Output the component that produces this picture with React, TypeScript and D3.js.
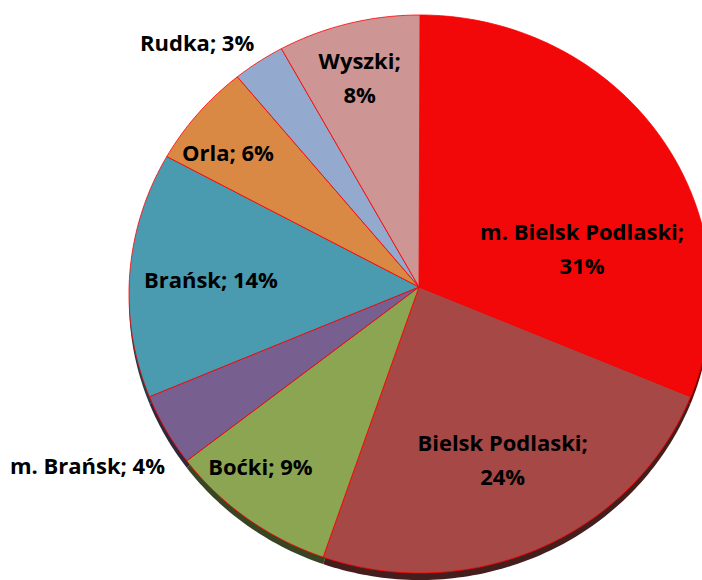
import React from "react";
import * as d3 from "d3";

const categories = [
  "m. Bielsk Podlaski",
  "Bielsk Podlaski",
  "Boćki",
  "m. Brańsk",
  "Brańsk",
  "Orla",
  "Rudka",
  "Wyszki",
];
const values = [31.0, 24.4, 9.4, 4.2, 14.2, 6.0, 2.9, 7.9];
const percentLabels = ["31%", "24%", "9%", "4%", "14%", "6%", "3%", "8%"];
const colors = ["#F20808", "#A54846", "#8BA552", "#775F8F", "#4A9AB0", "#DA8945", "#94A9CE", "#CD9594"];
// label layout: [angle offset (deg), radial fraction, two-line?]
const labelLayout: [number, number, boolean][] = [
  [18, 0.58, true],
  [-1, 0.66, true],
  [5, 0.83, false],
  [0.7, 1.3, false],
  [-0.3, 0.72, false],
  [-3, 0.83, false],
  [-6.8, 1.18, false],
  [-0.8, 0.8, true],
];

const W = 702;
const H = 580;
const cx = 420;
const cy = 294;
const rx = 291;
const ry = 279;
const apex = { x: 419, y: 287 };
const depth = 7;

function ell(t: number, f = 1) {
  return [cx + rx * f * Math.sin(t), cy - ry * f * Math.cos(t)] as [number, number];
}

function slicePath(a0: number, a1: number, dy = 0) {
  const n = Math.max(4, Math.ceil(((a1 - a0) * 180) / Math.PI));
  const pts: [number, number][] = [[apex.x, apex.y + dy]];
  for (let i = 0; i <= n; i++) {
    const t = a0 + ((a1 - a0) * i) / n;
    const p = ell(t);
    pts.push([p[0], p[1] + dy]);
  }
  return d3.line()(pts) + "Z";
}

export default function App() {
  const pie = d3.pie<number>().sort(null).value((d) => d);
  const arcs = pie(values);
  const font = "'Open Sans', 'Noto Sans', sans-serif";
  return (
    <svg
      width={W}
      height={H}
      style={{ position: "absolute", left: 0, top: 0, background: "#fff" }}
    >
      <g>
        {arcs.map((a, i) => (
          <path
            key={"s" + i}
            d={slicePath(a.startAngle, a.endAngle, depth)}
            fill={d3.color(colors[i])!.darker(2.5).toString()}
          />
        ))}
      </g>
      <g>
        {arcs.map((a, i) => (
          <path
            key={"f" + i}
            d={slicePath(a.startAngle, a.endAngle)}
            fill={colors[i]}
            stroke="#FF0000"
            strokeWidth={0.8}
            strokeLinejoin="round"
          />
        ))}
      </g>
      <g fontFamily={font} fontWeight={700} fontSize={22} fill="#000">
        {arcs.map((a, i) => {
          const [off, f, two] = labelLayout[i];
          const mid = (a.startAngle + a.endAngle) / 2 + (off * Math.PI) / 180;
          const [x, y] = ell(mid, f);
          if (two) {
            return (
              <text key={"l" + i} x={x} y={y} textAnchor="middle">
                <tspan x={x} dy={-9}>{categories[i] + ";"}</tspan>
                <tspan x={x} dy={34}>{percentLabels[i]}</tspan>
              </text>
            );
          }
          return (
            <text key={"l" + i} x={x} y={y + 7} textAnchor="middle">
              {categories[i] + "; " + percentLabels[i]}
            </text>
          );
        })}
      </g>
    </svg>
  );
}
